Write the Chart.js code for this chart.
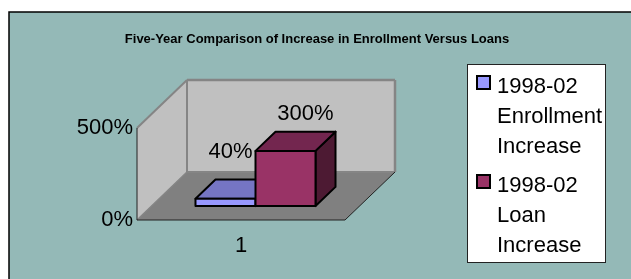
<!DOCTYPE html>
<html><head><meta charset="utf-8">
<script src="https://cdn.jsdelivr.net/npm/chart.js@4.4.1/dist/chart.umd.min.js"></script>
<style>html,body{margin:0;padding:0;background:#fff;overflow:hidden}canvas{display:block}</style>
</head><body>
<canvas id="c" width="631" height="279"></canvas>
<script>
const chartTitle = 'Five-Year Comparison of Increase in Enrollment Versus Loans';
const categories = ['1'];
const seriesNames = ['1998-02 Enrollment Increase', '1998-02 Loan Increase'];
const enrollmentIncrease = [40];
const loanIncrease = [300];
const yTickValues = [0, 500];

const FONT = "'Liberation Sans', Arial, sans-serif";
const BG = '#94B9B7';
const WALL = '#C0C0C0', WALL_EDGE = '#858585', FLOOR = '#808080';
const DEPTH = {x: 50, y: -48};
const BAR_FRONT = 0.29, BAR_BACK = 0.69;
const faceColors = [
  {front: '#9999FF', top: '#7575C4', side: '#4D4D80'},
  {front: '#993366', top: '#73264F', side: '#4D1A33'}
];

function poly(ctx, pts, fill, stroke, lw) {
  ctx.beginPath();
  ctx.moveTo(pts[0][0], pts[0][1]);
  for (let i = 1; i < pts.length; i++) ctx.lineTo(pts[i][0], pts[i][1]);
  ctx.closePath();
  if (fill) { ctx.fillStyle = fill; ctx.fill(); }
  if (stroke) { ctx.strokeStyle = stroke; ctx.lineWidth = lw || 1; ctx.stroke(); }
}
function line(ctx, a, b, color, lw) {
  ctx.beginPath(); ctx.moveTo(a[0], a[1]); ctx.lineTo(b[0], b[1]);
  ctx.strokeStyle = color; ctx.lineWidth = lw; ctx.stroke();
}

const threeD = {
  id: 'threeD',
  beforeDraw(chart) {
    const ctx = chart.ctx;
    ctx.save();
    ctx.fillStyle = '#fff'; ctx.fillRect(0, 0, chart.width, chart.height);
    ctx.fillStyle = BG; ctx.fillRect(9, 12, chart.width, chart.height);
    ctx.beginPath(); ctx.moveTo(9, chart.height + 5); ctx.lineTo(9, 12); ctx.lineTo(chart.width + 5, 12);
    ctx.strokeStyle = '#000'; ctx.lineWidth = 1.5; ctx.stroke();
    ctx.fillStyle = '#000'; ctx.font = 'bold 13px ' + FONT;
    ctx.textAlign = 'center'; ctx.textBaseline = 'alphabetic';
    ctx.fillText(chartTitle, 317, 43);
    ctx.restore();
  },
  beforeDatasetsDraw(chart) {
    const ctx = chart.ctx;
    const ys = chart.scales.y, xs = chart.scales.x;
    const L = xs.left, R = xs.right, T = ys.getPixelForValue(ys.max), B = ys.getPixelForValue(0);
    const dx = DEPTH.x, dy = DEPTH.y;
    ctx.save();
    ctx.lineJoin = 'round';
    poly(ctx, [[L, T], [L + dx, T + dy], [L + dx, B + dy], [L, B]], WALL);
    poly(ctx, [[L + dx, T + dy], [R + dx, T + dy], [R + dx, B + dy], [L + dx, B + dy]], WALL);
    poly(ctx, [[L, B], [R, B], [R + dx, B + dy], [L + dx, B + dy]], FLOOR);
    line(ctx, [L, T], [L + dx, T + dy], WALL_EDGE, 2);
    line(ctx, [L + dx, T + dy], [R + dx, T + dy], WALL_EDGE, 2.5);
    line(ctx, [R + dx, T + dy], [R + dx, B + dy], WALL_EDGE, 2.5);
    line(ctx, [L + dx, B + dy], [R + dx, B + dy], WALL_EDGE, 2);
    line(ctx, [L + dx, T + dy], [L + dx, B + dy], WALL_EDGE, 2);
    line(ctx, [L, B], [L + dx, B + dy], WALL_EDGE, 1.5);
    line(ctx, [L, T], [L, B], '#222', 1);
    line(ctx, [L, B], [R, B], '#222', 1.2);
    line(ctx, [R, B], [R + dx, B + dy], '#222', 1);
    ctx.restore();
  },
  beforeDatasetDraw() { return false; },
  afterDatasetsDraw(chart) {
    const ctx = chart.ctx;
    const fx = DEPTH.x * BAR_FRONT, fy = DEPTH.y * BAR_FRONT;
    const bx = DEPTH.x * (BAR_BACK - BAR_FRONT), by = DEPTH.y * (BAR_BACK - BAR_FRONT);
    const boxes = [];
    ctx.save();
    ctx.lineJoin = 'round';
    chart.data.datasets.forEach((ds, i) => {
      const meta = chart.getDatasetMeta(i);
      const c = faceColors[i];
      meta.data.forEach((bar, j) => {
        const p = bar.getProps(['x', 'y', 'base', 'width'], true);
        const l = p.x - p.width / 2 + fx, r = p.x + p.width / 2 + fx;
        const t = p.y + fy, b = p.base + fy;
        poly(ctx, [[r, t], [r + bx, t + by], [r + bx, b + by], [r, b]], c.side, '#000', 2);
        poly(ctx, [[l, t], [l + bx, t + by], [r + bx, t + by], [r, t]], c.top, '#000', 2);
        poly(ctx, [[l, t], [r, t], [r, b], [l, b]], c.front, '#000', 2);
        boxes.push({l, r, t, b, text: ds.data[j] + '%'});
      });
    });
    ctx.font = '22px ' + FONT;
    ctx.fillStyle = '#000';
    ctx.textAlign = 'center'; ctx.textBaseline = 'alphabetic';
    boxes.forEach((bx0, k) => {
      const w = ctx.measureText(bx0.text).width;
      let cx = (bx0.l + bx0.r) / 2 + bx;
      let base = bx0.t + by - 12;
      const next = boxes[k + 1];
      if (next && cx + w / 2 > next.l - 3) {
        cx = next.l - 3 - w / 2;
        base = Math.min(base, next.t + 7);
      }
      ctx.fillText(bx0.text, cx, base);
    });
    ctx.restore();
  },
  afterDraw(chart) {
    const ctx = chart.ctx;
    ctx.save();
    const lx = 467.5, ly = 64.5, lw = 138, lh = 198;
    ctx.fillStyle = '#fff'; ctx.fillRect(lx, ly, lw, lh);
    ctx.strokeStyle = '#222'; ctx.lineWidth = 1; ctx.strokeRect(lx, ly, lw, lh);
    ctx.font = '22px ' + FONT; ctx.textAlign = 'left'; ctx.textBaseline = 'alphabetic';
    let base = 93;
    chart.data.datasets.forEach((ds, i) => {
      ctx.fillStyle = ds.backgroundColor;
      ctx.fillRect(477, base - 17, 13, 13);
      ctx.strokeStyle = '#000'; ctx.lineWidth = 2;
      ctx.strokeRect(477, base - 17, 13, 13);
      ctx.fillStyle = '#000';
      const lines = ds.label.split(' ');
      lines.forEach((ln, k) => ctx.fillText(ln, 497, base + k * 30));
      base += lines.length * 30 + 9;
    });
    ctx.restore();
  }
};

const tickFont = {family: FONT, size: 22};
new Chart(document.getElementById('c'), {
  type: 'bar',
  data: {
    labels: categories,
    datasets: [
      {label: seriesNames[0], data: enrollmentIncrease, backgroundColor: faceColors[0].front},
      {label: seriesNames[1], data: loanIncrease, backgroundColor: faceColors[1].front}
    ]
  },
  options: {
    responsive: false, animation: false, devicePixelRatio: 1,
    categoryPercentage: 0.577, barPercentage: 1,
    layout: {padding: {left: 0, right: 286, top: 128, bottom: 0}},
    plugins: {legend: {display: false}, title: {display: false}, tooltip: {enabled: false}},
    scales: {
      x: {
        grid: {display: false, drawTicks: false}, border: {display: false},
        ticks: {font: tickFont, color: '#000', padding: 13},
        afterFit(s) { s.height = 59; }
      },
      y: {
        min: 0, max: 500,
        grid: {display: false, drawTicks: false}, border: {display: false},
        afterBuildTicks(s) { s.ticks = yTickValues.map(v => ({value: v})); },
        ticks: {font: tickFont, color: '#000', padding: 4, callback: v => v + '%'},
        afterFit(s) { s.width = 137; }
      }
    }
  },
  plugins: [threeD]
});
</script>
</body></html>
